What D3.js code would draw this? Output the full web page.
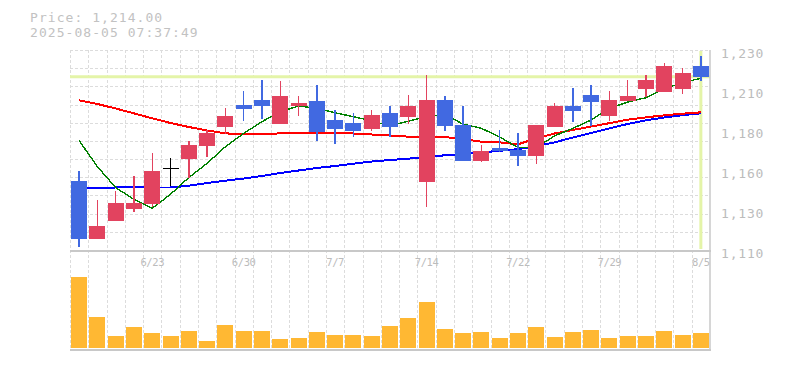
<!DOCTYPE html>
<html><head><meta charset="utf-8">
<script src="https://cdn.jsdelivr.net/npm/d3@7"></script>
<style>body{margin:0;background:#fff}svg{display:block}</style>
</head><body><svg id="c" width="785" height="370"></svg>
<script>
const dates = ["6/17","6/18","6/19","6/20","6/23","6/24","6/25","6/26","6/27","6/30",
  "7/1","7/2","7/3","7/4","7/7","7/8","7/9","7/10","7/11","7/14",
  "7/15","7/16","7/17","7/18","7/22","7/23","7/24","7/25","7/28","7/29",
  "7/30","7/31","8/1","8/4","8/5"];
const openP  = [1151.4,1116.8,1127.6,1134.8,1137.8,1159,1164.8,1172.6,1184,1197,
  1200,1185.6,1196.4,1199.4,1188,1186.2,1182.6,1192.2,1190,1151,
  1200,1185,1163.6,1171.2,1170,1166.6,1184,1196.4,1203,1190.6,
  1199.6,1206.8,1205,1206.8,1220.4];
const highP  = [1157.4,1140,1145.4,1154.4,1168.2,1165,1175.6,1182,1195.2,1205.4,
  1212,1211.4,1202.4,1209,1194,1192.2,1194,1196.4,1203,1215,
  1202.4,1196.4,1173,1182,1180.2,1185,1198.2,1207.2,1209,1205.4,
  1212,1215,1222.2,1219.2,1226.4];
const lowP   = [1112,1116.8,1127.6,1133,1135.6,1148.6,1153.4,1166,1179.4,1187.4,
  1188.8,1185.6,1190.6,1175.6,1173.8,1178,1181.4,1178,1185.8,1135.8,
  1181.6,1163.6,1163,1169,1160.6,1161.8,1184,1186.8,1184.4,1187.6,
  1199.6,1201.8,1205,1203.8,1211.6];
const closeP = [1116.8,1124.4,1138.2,1138.2,1157.4,1159,1173,1180.2,1190.4,1194.8,
  1196.4,1202.4,1198.2,1181,1182.8,1181.6,1191,1184,1196.4,1200,
  1184.6,1163.6,1169.4,1169.4,1166.6,1185,1196.4,1193.6,1199,1200,
  1202.4,1212,1220.4,1216.2,1214];
const volume = [710,310,120,210,150,120,170,70,230,170,
  170,90,100,160,130,130,120,220,300,460,
  190,150,160,100,150,210,110,160,180,100,
  120,120,170,130,150];
const ma5  = [1175.6,1160,1147.4,1140.4,1135,1143.5,1153.5,1162,1172,1180,
  1187,1193,1196.4,1195,1192.3,1190,1187.5,1184.5,1187.3,1190,
  1191.3,1185.5,1183,1177.8,1171.5,1171.5,1178.5,1183,1188,1195,
  1198.8,1201.4,1206.7,1210.5,1213];
const ma25 = [1199.8,1197.6,1194.9,1192,1189,1186.2,1183.8,1181.7,1180,1179.4,
  1179.4,1180,1180,1180,1180,1179.9,1179.3,1178.7,1178,1178,
  1177.8,1176.5,1175,1174.6,1173.4,1177,1179.9,1182,1184.1,1186.1,
  1188.2,1189.6,1190.8,1191.8,1192.6];
const ma75 = [1147,1147.2,1147.5,1147.6,1147.5,1147.5,1148.6,1150.2,1151.6,1152.9,
  1154.4,1156.2,1157.7,1159.2,1160.4,1161.8,1163.1,1164,1164.8,1166,
  1166.8,1167.6,1168.6,1169.5,1170.5,1172.3,1174.6,1177.5,1180.2,1183,
  1185.6,1187.8,1189.5,1190.9,1192];
const dateLabels = ["6/23","6/30","7/7","7/14","7/22","7/29","8/5"];
const yTickValues = [1230,1206,1182,1158,1134,1110];
const yTickLabels = ["1,230","1,210","1,180","1,160","1,130","1,110"];
const currentPrice = 1214;
const titleLines = ["Price: 1,214.00","2025-08-05 07:37:49"];

const svg = d3.select("#c");
const L = 70, R = 710, PT = 50, PB = 250, VT = 250, VB = 348;
const x = d3.scaleBand().domain(dates).range([L, R]).paddingInner(0.125).paddingOuter(0.0625);
const y = d3.scaleLinear().domain([1110, 1230]).range([PB, PT]);
const yv = d3.scaleLinear().domain([0, 800]).range([VB, VB - 80]);
const step = x.step(), bw = x.bandwidth();
const cx = d => x(d) + bw / 2;
const edge = d => x(d) - (step - bw) / 2;
const mono = "'DejaVu Sans Mono', 'Liberation Mono', monospace";

// grid
const grid = svg.append("g").attr("stroke", "#dcdcdc").attr("stroke-dasharray", "3,2").attr("stroke-width", 1);
const hGrid = d3.range(12).map(k => 1110 + k * 120 / 11);
grid.selectAll("line.h").data(hGrid.slice(1)).join("line").attr("class", "h")
  .attr("x1", L).attr("x2", R).attr("y1", d => Math.round(y(d)) + 0.5).attr("y2", d => Math.round(y(d)) + 0.5);
grid.selectAll("line.v").data(dates).join("line").attr("class", "v")
  .attr("x1", d => Math.round(edge(d)) + 0.5).attr("x2", d => Math.round(edge(d)) + 0.5)
  .attr("y1", PT).attr("y2", VB + 1);

// highlight lines
svg.append("line").attr("x1", L).attr("x2", R).attr("y1", y(currentPrice)).attr("y2", y(currentPrice))
  .attr("stroke", "#e4f4a8").attr("stroke-width", 3);
const last = dates[dates.length - 1];
svg.append("line").attr("x1", cx(last)).attr("x2", cx(last)).attr("y1", PT + 1).attr("y2", PB - 1)
  .attr("stroke", "#e4f4a8").attr("stroke-width", 3);

// moving averages
const line = d3.line().x((d, i) => cx(dates[i])).y(d => y(d));
const mg = svg.append("g").attr("fill", "none").attr("shape-rendering", "crispEdges");
mg.append("path").datum(ma75).attr("d", line).attr("stroke", "#0000ff").attr("stroke-width", 2);
mg.append("path").datum(ma25).attr("d", line).attr("stroke", "#ff0000").attr("stroke-width", 2);
mg.append("path").datum(ma5).attr("d", line).attr("stroke", "#008000").attr("stroke-width", 1.4);

// candles
const UP = "#e2435f", DOWN = "#4169e1";
const idx = d3.range(dates.length);
const col = i => closeP[i] > openP[i] ? UP : (closeP[i] < openP[i] ? DOWN : "#000");
const cg = svg.append("g").attr("shape-rendering", "crispEdges");
cg.selectAll("rect.w").data(idx).join("rect").attr("class", "w")
  .attr("x", i => cx(dates[i]) - 0.75).attr("width", 1.5)
  .attr("y", i => y(highP[i])).attr("height", i => y(lowP[i]) - y(highP[i]))
  .attr("fill", col);
cg.selectAll("rect.b").data(idx.filter(i => closeP[i] !== openP[i])).join("rect").attr("class", "b")
  .attr("x", i => x(dates[i])).attr("width", bw)
  .attr("y", i => y(Math.max(openP[i], closeP[i])))
  .attr("height", i => Math.abs(y(openP[i]) - y(closeP[i])))
  .attr("fill", col);
cg.selectAll("rect.d").data(idx.filter(i => closeP[i] === openP[i])).join("rect").attr("class", "d")
  .attr("x", i => x(dates[i])).attr("width", bw)
  .attr("y", i => y(openP[i]) - 0.75).attr("height", 1.5).attr("fill", "#000");

// volume
svg.append("g").attr("shape-rendering", "crispEdges").selectAll("rect").data(idx).join("rect")
  .attr("x", i => x(dates[i])).attr("width", bw)
  .attr("y", i => yv(volume[i])).attr("height", i => VB - yv(volume[i]))
  .attr("fill", "#ffb833");

// borders
const bd = svg.append("g").attr("stroke", "#c8c8c8");
bd.append("line").attr("x1", L).attr("x2", R + 1).attr("y1", 251).attr("y2", 251).attr("stroke-width", 2);
bd.append("line").attr("x1", L).attr("x2", R + 1).attr("y1", 350).attr("y2", 350).attr("stroke-width", 2);
bd.append("line").attr("x1", R).attr("x2", R).attr("y1", PT).attr("y2", 351).attr("stroke-width", 1.5);

// y labels
svg.append("g").selectAll("text").data(yTickValues).join("text")
  .attr("x", 721).attr("y", d => y(d) + 7.5)
  .attr("font-family", mono).attr("font-size", 13).attr("letter-spacing", 0.8)
  .attr("fill", "#bcbcbc").text((d, i) => yTickLabels[i]);

// date labels
svg.append("g").selectAll("text").data(dateLabels).join("text")
  .attr("x", d => cx(d)).attr("y", 266).attr("text-anchor", "middle")
  .attr("font-family", mono).attr("font-size", 10.5).attr("letter-spacing", -0.4)
  .attr("fill", "#bcbcbc").text(d => d);

// title
svg.append("g").selectAll("text").data(titleLines).join("text")
  .attr("x", 30).attr("y", (d, i) => 22 + i * 14.5)
  .attr("font-family", mono).attr("font-size", 13).attr("letter-spacing", 1.05)
  .attr("fill", "#c2c2c2").text(d => d);
</script></body></html>
